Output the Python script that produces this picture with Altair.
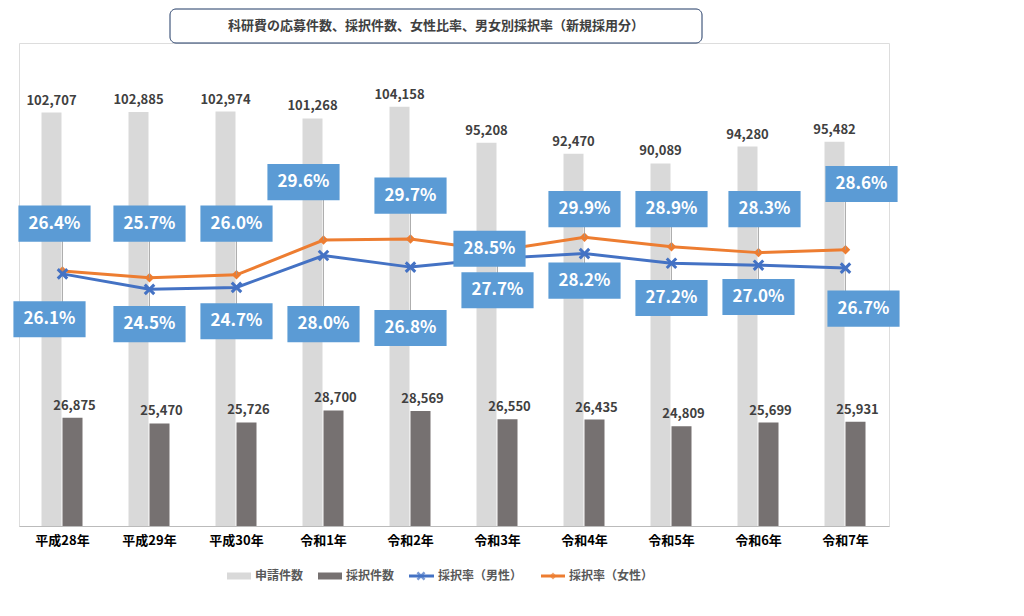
import altair as alt
import pandas as pd

years = ["平成28年", "平成29年", "平成30年", "令和1年", "令和2年", "令和3年", "令和4年", "令和5年", "令和6年", "令和7年"]
applied = [102707, 102885, 102974, 101268, 104158, 95208, 92470, 90089, 94280, 95482]
adopted = [26875, 25470, 25726, 28700, 28569, 26550, 26435, 24809, 25699, 25931]
rate_male = [26.1, 24.5, 24.7, 28.0, 26.8, 27.7, 28.2, 27.2, 27.0, 26.7]
rate_female = [26.4, 25.7, 26.0, 29.6, 29.7, 28.5, 29.9, 28.9, 28.3, 28.6]
# callout box positions (in % units) and horizontal shifts (px)
lab_female = [31.3, 31.3, 31.3, 35.6, 34.2, 28.7, 32.8, 32.8, 32.8, 35.4]
dx_female = [-8, 0, 0, -20, 0, -8, 0, 0, 6, 16]
lab_male = [21.4, 20.9, 21.2, 20.9, 20.5, 24.4, 25.4, 23.6, 23.7, 22.5]
dx_male = [-13, 0, 0, 0, 0, 0, 0, 0, 0, 18]

FONT = "Noto Sans CJK JP"
W, H = 870, 483
df = pd.DataFrame({"year": years, "applied": applied, "adopted": adopted})
rows = []
for i, y in enumerate(years):
    rows.append({"year": y, "rate": rate_female[i], "lab": lab_female[i], "dx": dx_female[i], "s": "f",
                 "txt": f"{rate_female[i]:.1f}%"})
    rows.append({"year": y, "rate": rate_male[i], "lab": lab_male[i], "dx": dx_male[i], "s": "m",
                 "txt": f"{rate_male[i]:.1f}%"})
rd = pd.DataFrame(rows)

x = alt.X("year:N", sort=years, title=None,
          axis=alt.Axis(labelAngle=0, labelFont=FONT, labelFontWeight="bold", labelFontSize=13,
                        labelColor="#000", ticks=False, domainColor="#bbb", labelPadding=8),
          scale=alt.Scale(paddingInner=0, paddingOuter=0))
yl = alt.Y("v:Q", scale=alt.Scale(domain=[0, 120000]), title=None,
           axis=alt.Axis(values=list(range(0, 120001, 20000)), labelExpr="format(datum.value, ',')", labelFont=FONT,
                         labelFontWeight="bold", labelFontSize=13, labelColor="#1F3864",
                         domain=False, ticks=False, gridColor="#d9d9d9", labelPadding=20))
yl_n = alt.Y("v:Q", scale=alt.Scale(domain=[0, 120000]), axis=None)

base = alt.Chart(df)
b1 = base.transform_calculate(v="datum.applied").mark_bar(color="#d9d9d9", width=20, xOffset=-11).encode(x=x, y=yl)
b2 = base.transform_calculate(v="datum.adopted").mark_bar(color="#767171", width=20, xOffset=10).encode(x=x, y=yl_n)
t1 = base.transform_calculate(v="datum.applied").mark_text(font=FONT, fontSize=13, fontWeight="bold", color="#404040", dy=-12, xOffset=-11).encode(x=x, y=yl_n, text=alt.Text("applied:Q", format=","))
t2 = base.transform_calculate(v="datum.adopted").mark_text(font=FONT, fontSize=13, fontWeight="bold", color="#404040", dy=-12, xOffset=12).encode(x=x, y=yl_n, text=alt.Text("adopted:Q", format=","))

# legend and title box drawn in pixel space
lc = alt.Chart(pd.DataFrame({"k": [0]}))
LY = H + 50
def sw(x0, x1, color, sz):
    return lc.mark_rule(color=color, strokeWidth=sz).encode(x=alt.value(x0), x2=alt.value(x1), y=alt.value(LY))
def lt(x0, text):
    return lc.mark_text(text=text, font=FONT, fontSize=12, align="left", color="#595959", fontWeight="bold").encode(x=alt.value(x0), y=alt.value(LY))
legend = [
    sw(208, 232, "#d9d9d9", 7), lt(236, "申請件数"),
    sw(299, 323, "#767171", 7), lt(327, "採択件数"),
    sw(390, 415, "#4472C4", 3), lc.mark_point(shape="M-1,-1L1,1M-1,1L1,-1", color="#4472C4", size=50, strokeWidth=2.5).encode(x=alt.value(402), y=alt.value(LY)), lt(419, "採択率（男性）"),
    sw(522, 546, "#ED7D31", 3), lc.mark_point(shape="diamond", color="#ED7D31", size=50, filled=True).encode(x=alt.value(534), y=alt.value(LY)), lt(550, "採択率（女性）"),
    lc.mark_rect(fill="white", stroke="#1F3864", strokeWidth=1, cornerRadius=6).encode(x=alt.value(151), x2=alt.value(683), y=alt.value(-34), y2=alt.value(0)),
    lc.mark_text(text="科研費の応募件数、採択件数、女性比率、男女別採択率（新規採用分）", font=FONT, fontSize=13, fontWeight="bold", color="#404040").encode(x=alt.value(417), y=alt.value(-17)),
]
left = alt.layer(b1, b2, t1, t2, *legend)

ysc = alt.Scale(domain=[0, 50])
yr = alt.Y("rate:Q", scale=ysc, title=None,
           axis=alt.Axis(orient="right", values=list(range(0, 51, 5)), labelExpr="datum.value + '%'",
                         labelFont=FONT, labelFontWeight="bold", labelFontSize=13, labelColor="#1F3864",
                         domain=False, ticks=False, grid=False, labelPadding=10))
yn = alt.Y("rate:Q", scale=ysc, axis=None)
female = alt.Chart(rd[rd.s == "f"]).mark_line(color="#ED7D31", strokeWidth=3,
                                              point=alt.OverlayMarkDef(shape="diamond", size=90, color="#ED7D31", filled=True)).encode(x=x, y=yr)
lead = alt.Chart(rd).mark_rule(color="#999", strokeWidth=0.8).encode(x=x, y=yn, y2="lab:Q")
male = alt.Chart(rd[rd.s == "m"]).mark_line(color="#4472C4", strokeWidth=3,
                                            point=alt.OverlayMarkDef(shape="M-1,-1L1,1M-1,1L1,-1", size=90, color="#4472C4", filled=False, strokeWidth=3)).encode(x=x, y=yn)
boxes = []
for d in sorted(set(dx_female + dx_male)):
    sub = rd[rd.dx == d]
    bx = alt.Chart(sub).mark_point(shape="M-1.64,-0.82H1.64V0.82H-1.64Z", size=1936, filled=True, opacity=1,
                                   color="#5B9BD5", xOffset=d).encode(x=x, y=alt.Y("lab:Q", scale=ysc, axis=None))
    tx = alt.Chart(sub).mark_text(font=FONT, fontSize=17, fontWeight="bold", color="white", xOffset=d).encode(
        x=x, y=alt.Y("lab:Q", scale=ysc, axis=None), text="txt:N")
    boxes += [bx, tx]
right = alt.layer(female, lead, male, *boxes)

chart = alt.layer(left, right).resolve_scale(y="independent").properties(
    width=W, height=H, padding={"left": 5, "top": 0, "right": 5, "bottom": 5}
).configure_view(stroke=None).configure(background="white")
chart.save("out.html", embed_options={"renderer": "svg", "actions": False})
